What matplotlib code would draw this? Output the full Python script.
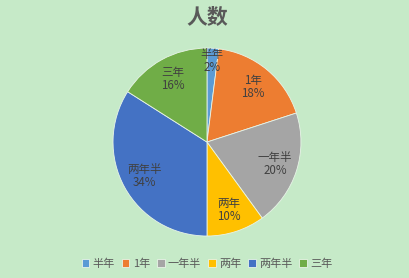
import numpy as np
import matplotlib.pyplot as plt

plt.rcParams['font.family'] = ['Noto Sans CJK SC', 'DejaVu Sans']

categories = ['半年', '1年', '一年半', '两年', '两年半', '三年']
values = [2, 18, 20, 10, 34, 16]
colors = ['#5b9bd5', '#ed7d31', '#a5a5a5', '#ffc000', '#4472c4', '#70ad47']
bg = '#c6eac8'

fig = plt.figure(figsize=(4.10, 2.78), dpi=100, facecolor=bg)
ax = fig.add_axes([0.2756, 0.151, 0.4585, 0.676])
ax.set_facecolor(bg)

wedges, _ = ax.pie(values, colors=colors, startangle=90, counterclock=False,
                   wedgeprops=dict(edgecolor='#e8f4e8', linewidth=0.6))

total = sum(values)
for w, cat, v in zip(wedges, categories, values):
    ang = np.deg2rad((w.theta1 + w.theta2) / 2)
    r = 0.86 if v < 5 else 0.76
    ax.text(r * np.cos(ang), r * np.sin(ang), f"{cat}\n{round(100 * v / total)}%",
            ha='center', va='center', fontsize=8.3, color='#404040', linespacing=1.0)

ax.set_xlim(-1, 1)
ax.set_ylim(-1, 1)
ax.set_aspect('equal')

fig.text(0.505, 0.94, '人数', ha='center', va='center', fontsize=15,
         fontweight='bold', color='#595959')

fig.legend(wedges, categories, loc='center', bbox_to_anchor=(0.505, 0.052),
           ncol=6, frameon=False, fontsize=8, handlelength=0.7, handleheight=0.7,
           handletextpad=0.3, columnspacing=0.6, labelcolor='#595959')

fig.savefig('out.png', dpi=100, facecolor=bg)
